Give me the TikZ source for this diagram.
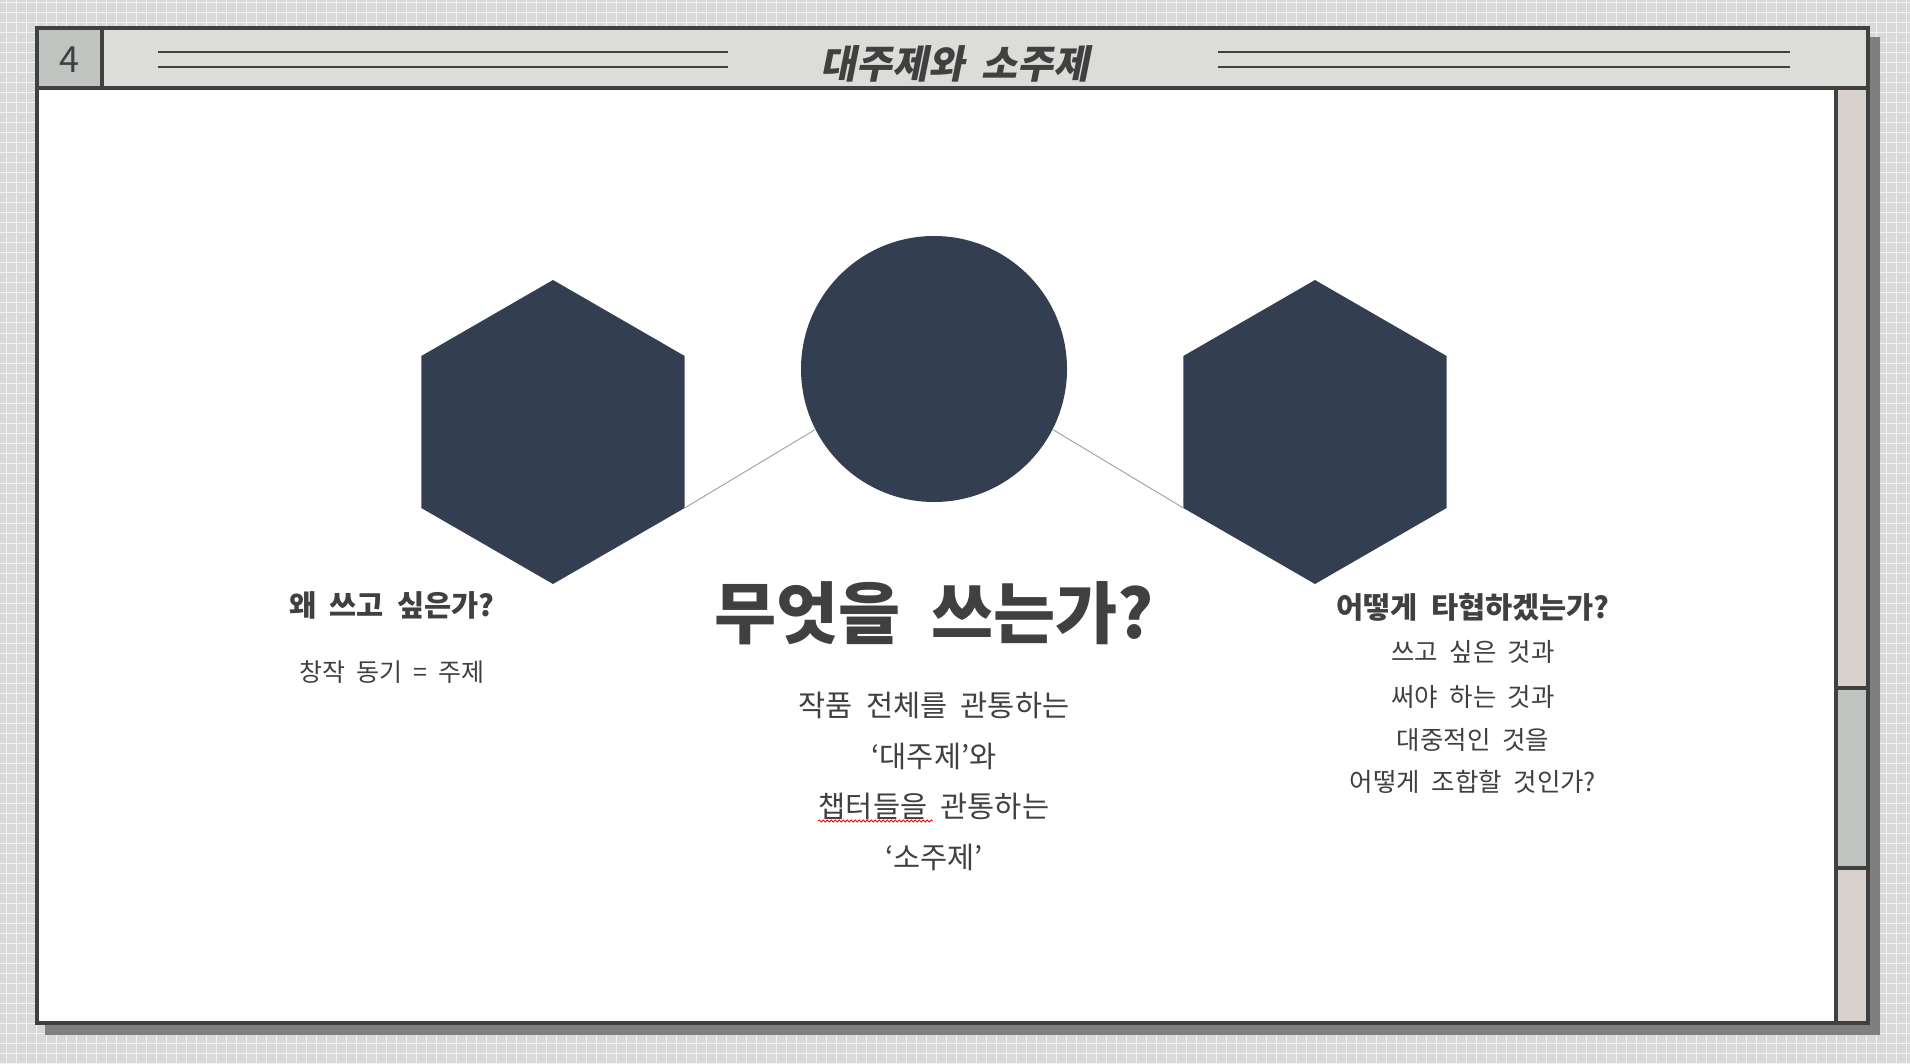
\documentclass[tikz,border=0pt]{standalone}
\usepackage{fontspec}
\setmainfont[WordSpace=2]{Noto Sans CJK KR}
\newfontfamily\slantfont[FakeSlant=0.2,WordSpace=2]{Noto Sans CJK KR}
\usetikzlibrary{shapes.geometric,decorations.pathmorphing}

\definecolor{backdrop}{HTML}{D9D9D9}
\definecolor{gridwhite}{HTML}{F2F2F2}
\definecolor{dropgray}{HTML}{7F7F7F}
\definecolor{rim}{HTML}{404040}
\definecolor{band}{HTML}{DCDDD8}
\definecolor{tab}{HTML}{C0C4C0}
\definecolor{side}{HTML}{D8D2CF}
\definecolor{slate}{HTML}{333F50}
\definecolor{ink}{HTML}{404040}
\definecolor{linkgray}{HTML}{A6A6A6}

\tikzset{
  hexa/.style={regular polygon, regular polygon sides=6, shape border rotate=30,
    minimum size=304pt, inner sep=0pt, outer sep=0pt, fill=slate},
  core/.style={circle, minimum size=266pt, inner sep=0pt, outer sep=0pt, fill=slate},
  link/.style={draw=linkgray, line width=1pt},
  rule/.style={draw=rim, line width=2.5pt},
  gridline/.style={draw=gridwhite, line width=1pt, step=10pt},
  heading/.style={text=ink, font=\fontsize{29.5}{35}\selectfont\bfseries},
  body/.style={text=ink, font=\fontsize{29.5}{35}\selectfont},
  note/.style={text=ink, font=\fontsize{25.5}{30}\selectfont},
  bigq/.style={text=ink, font=\fontsize{67.5}{80}\selectfont\bfseries},
  spell/.style={draw=red, line width=0.8pt,
    decorate, decoration={snake, segment length=4pt, amplitude=1pt}}
}

\begin{document}
\begin{tikzpicture}[x=1pt, y=-1pt]
    \useasboundingbox (0,0) rectangle (1910,1064);

    % Background paper with grid
    \fill[backdrop] (0,0) rectangle (1910,1064);
    \draw[gridline, shift={(6,3)}] (-10,1070) grid (1910,-10);

    % Slide frame with shadow
    \fill[dropgray] (45,37) rectangle (1880,1035);
    \filldraw[fill=white, draw=rim, line width=4pt] (37,28.5) rectangle (1868,1023);
    \filldraw[fill=band, draw=rim, line width=4pt] (37,28.5) rectangle (1868,88);
    \filldraw[fill=tab, draw=rim, line width=4pt] (37,28.5) rectangle (102,88);
    \filldraw[fill=side, draw=rim, line width=3.5pt] (1836,88) rectangle (1868,1023);
    \filldraw[fill=tab, draw=rim, line width=3.5pt] (1836,688) rectangle (1868,868);

    % Rules in the header
    \draw[rule] (158,52) -- (728,52);
    \draw[rule] (158,67) -- (728,67);
    \draw[rule] (1218,52) -- (1790,52);
    \draw[rule] (1218,67) -- (1790,67);

    % Header texts
    \node[text=ink, font=\fontsize{36}{40}\selectfont] (pageno) at (69,60) {4};
    \node[text=ink, font=\fontsize{39}{44}\selectfont\slantfont\bfseries] (title) at (955,64) {대주제와 소주제};

    % Shapes
    \node[hexa] (why) at (553,432) {};
    \node[core] (what) at (934,369) {};
    \node[hexa] (how) at (1315,432) {};

    % Connectors
    \draw[link] (why.-30) -- (what.207);
    \draw[link] (how.210) -- (what.333);

    % Left column
    \node[heading] (whyq) at (392,605) {왜 쓰고 싶은가?};
    \node[note, font=\fontsize{25}{30}\selectfont] (whya) at (392,672) {창작 동기 = 주제};

    % Middle column
    \node[bigq] (whatq) at (934,613) {무엇을 쓰는가?};
    \node[body] (whata) at (934,705) {작품 전체를 관통하는};
    \node[body] (whatb) at (934,756) {‘대주제’와};
    \node[body] (whatc) at (934,806) {챕터들을 관통하는};
    \node[body] (whatd) at (934,857) {‘소주제’};
    \draw[spell] (818,821) -- (933,821);

    % Right column
    \node[heading] (howq) at (1473,607) {어떻게 타협하겠는가?};
    \node[note] (howa) at (1473,652) {쓰고 싶은 것과};
    \node[note] (howb) at (1473,697) {써야 하는 것과};
    \node[note] (howc) at (1473,740) {대중적인 것을};
    \node[note] (howd) at (1473,782) {어떻게 조합할 것인가?};
\end{tikzpicture}
\end{document}
